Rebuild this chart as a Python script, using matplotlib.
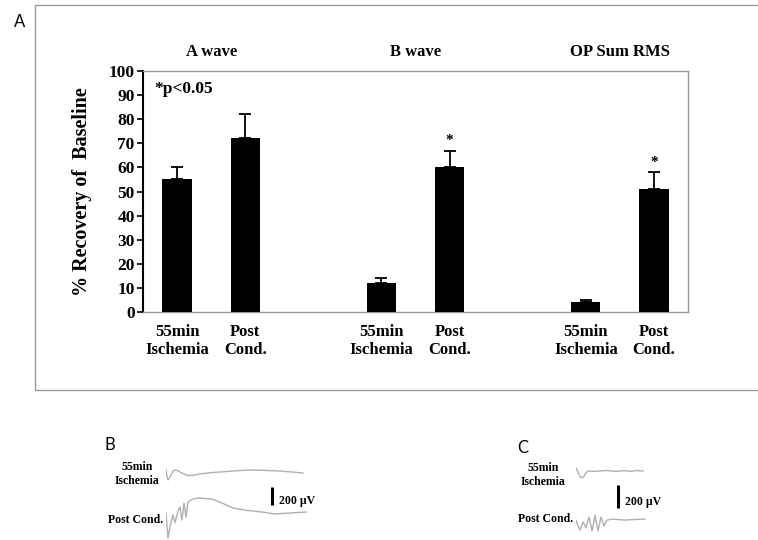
import matplotlib
matplotlib.use('Agg')
import matplotlib.pyplot as plt
import matplotlib.patches as patches

# ---- bar chart data ----
groups     = ['A wave', 'B wave', 'OP Sum RMS']
conditions = ['55min\nIschemia', 'Post\nCond.']
means      = [55, 72, 12, 60, 4, 51]
errors     = [5, 10, 2, 7, 1, 7]
signif     = [False, False, False, True, False, True]
yticks     = list(range(0, 101, 10))

# ---- ERG traces (time in ms, amplitude in uV) ----
b_isch_t = [0, 1, 2, 3, 5, 7, 9, 12, 16, 21, 27, 34, 44, 54, 68, 82, 98, 114, 126, 137]
b_isch_v = [0, -70, -111, -95, -55, -15, 0, -8, -35, -60, -60, -44, -30, -22, -10, 0, -4, -11, -22, -33]
b_post_t = [0, 2, 4, 7, 9, 12, 14, 16, 18, 20, 22, 26, 32, 39, 46, 56, 67, 80, 96, 109, 125, 141]
b_post_v = [0, -278, -150, -22, -111, 20, 67, -78, 111, -44, 122, 150, 167, 160, 155, 110, 55, 30, 11, -11, 0, 11]

c_isch_t = [0, 2, 4, 6, 8, 10, 12, 18, 24, 30, 36, 42, 48, 54, 60, 67]
c_isch_v = [26, -10, -50, -61, -45, -15, 0, -4, 0, 4, 0, -4, 4, -4, 4, 0]
c_post_t = [0, 2, 4, 5.5, 7, 8.5, 10, 11.5, 13, 14.5, 16, 17.5, 19, 20.5, 22, 23.5, 25, 26.5, 28, 29.5,
            31, 33, 36, 42, 49, 58, 69]
c_post_v = [-9, -60, -96, -60, -26, -50, -78, -30, 17, -40, -104, -40, 35, -35, -104, -45, 17, -20, -61,
            -30, -9, -5, 0, -4, -9, -4, 0]

W, H = 758, 540
SERIF = 'Liberation Serif'
SANS = 'Lato'


def fx(x):
    return x / W


def fy(y):
    return 1 - y / H


def pos(x0, y0, x1, y1):
    return [fx(x0), fy(y1), fx(x1) - fx(x0), fy(y0) - fy(y1)]


fig = plt.figure(figsize=(W / 100, H / 100), dpi=100)

# outer frame of panel A
fig.add_artist(patches.Rectangle((fx(35), fy(390)), fx(760) - fx(35), fy(5) - fy(390),
                                 transform=fig.transFigure, fill=False,
                                 edgecolor='#999999', linewidth=1))
fig.text(fx(20), fy(22), 'A', family=SANS, fontsize=12, ha='center', va='center')

# ---- bar chart ----
ax = fig.add_axes(pos(143, 71, 688, 312))
xpos = [0, 1, 3, 4, 6, 7]
ax.bar(xpos, means, width=0.43, color='black', zorder=3)
ax.errorbar(xpos, means, yerr=[[0] * len(errors), errors], fmt='none',
            ecolor='black', elinewidth=1.3, capsize=4, capthick=1.3, zorder=2)
for x, m, e, s in zip(xpos, means, errors, signif):
    if s:
        ax.text(x, m + e + 1.5, '*', ha='center', va='bottom', fontsize=11,
                fontweight='bold', family=SERIF)
ax.set_xlim(-0.5, 7.5)
ax.set_ylim(0, 100)
ax.set_yticks(yticks)
ax.set_xticks([])
for t in ax.get_yticklabels():
    t.set_fontfamily(SERIF)
    t.set_fontweight('bold')
    t.set_fontsize(12.5)
ax.tick_params(axis='y', direction='out', length=4, width=1.2, pad=2)
for side in ['top', 'right', 'bottom']:
    ax.spines[side].set_color('#999999')
    ax.spines[side].set_linewidth(1)
ax.spines['left'].set_linewidth(1.5)
ax.set_ylabel('% Recovery of  Baseline', family=SERIF, fontweight='bold',
              fontsize=14.5, labelpad=12)

for gi, g in enumerate(groups):
    ax.text((xpos[2 * gi] + xpos[2 * gi + 1]) / 2, 104.5, g, ha='center', va='bottom',
            family=SERIF, fontweight='bold', fontsize=12)
for i, x in enumerate(xpos):
    ax.text(x, -5, conditions[i % 2], ha='center', va='top', family=SERIF,
            fontweight='bold', fontsize=12, linespacing=1.15)
ax.text(0.02, 0.925, '*p<0.05', transform=ax.transAxes, ha='left', va='center',
        family=SERIF, fontweight='bold', fontsize=12.5)

trace_col = '#b0b0b0'


def trace_panel(rect, t1, v1, t2, v2, offset, xlim, ylim, bar_t, bar_top):
    a = fig.add_axes(rect)
    a.plot(t1, v1, color=trace_col, lw=1)
    a.plot(t2, [v + offset for v in v2], color=trace_col, lw=1)
    a.vlines(bar_t, bar_top - 200, bar_top, color='black', lw=2.2)
    a.text(bar_t + 7, bar_top - 150, '200 \u00b5V', family=SERIF, fontweight='bold',
           fontsize=8.5, va='center', ha='left', clip_on=False)
    a.set_xlim(*xlim)
    a.set_ylim(*ylim)
    a.axis('off')
    return a


# ---- panel B ----
fig.text(fx(110), fy(445), 'B', family=SANS, fontsize=12, ha='center', va='center')
fig.text(fx(137), fy(474), '55min\nIschemia', family=SERIF, fontweight='bold',
         fontsize=8.5, ha='center', va='center', linespacing=1.3)
fig.text(fx(136), fy(520), 'Post Cond.', family=SERIF, fontweight='bold',
         fontsize=8.5, ha='center', va='center')
trace_panel(pos(166, 462, 307, 540), b_isch_t, b_isch_v, b_post_t, b_post_v,
            -477, (0, 141), (-777, 89), 106, -189)

# ---- panel C ----
fig.text(fx(523), fy(448), 'C', family=SANS, fontsize=12, ha='center', va='center')
fig.text(fx(543), fy(475), '55min\nIschemia', family=SERIF, fontweight='bold',
         fontsize=8.5, ha='center', va='center', linespacing=1.3)
fig.text(fx(546), fy(519), 'Post Cond.', family=SERIF, fontweight='bold',
         fontsize=8.5, ha='center', va='center')
trace_panel(pos(576, 462, 646, 540), c_isch_t, c_isch_v, c_post_t, c_post_v,
            -418, (0, 70), (-600, 78), 42, -122)

fig.savefig('out.png', dpi=100)
